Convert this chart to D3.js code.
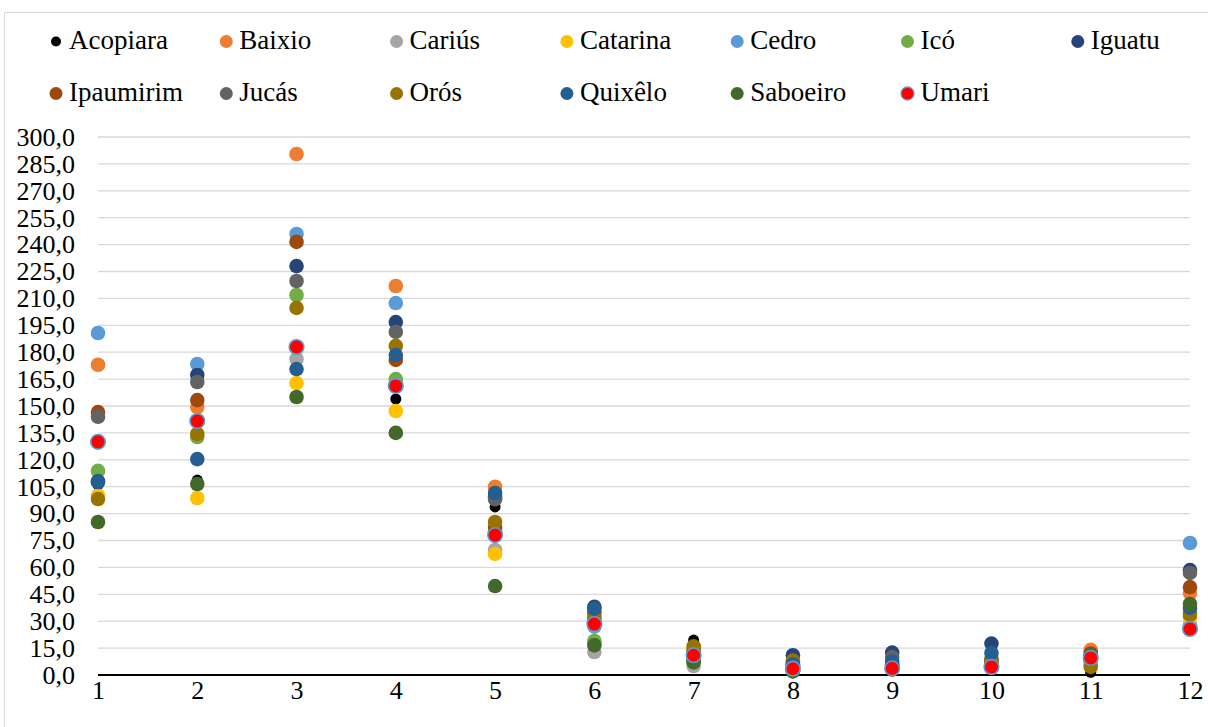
<!DOCTYPE html>
<html>
<head>
<meta charset="utf-8">
<script src="https://cdn.jsdelivr.net/npm/d3@7"></script>
<style>
  html, body { margin: 0; padding: 0; background: #fff; }
  svg { display: block; }
</style>
</head>
<body>
<svg id="chart" width="1208" height="727"></svg>
<script>
// Monthly values per municipality (month 1..12)
const months = [1, 2, 3, 4, 5, 6, 7, 8, 9, 10, 11, 12];
const acopiara  = [106, 108.7, 171, 153.9, 93.7, 17, 19.5, 4, 4, 5, 1.5, 30];
const baixio    = [173, 149.4, 290.5, 216.9, 105, 33, 13, 5, 5, 6, 14, 45.7];
const carius    = [130, 142, 176.2, 163, 69.7, 12.8, 5, 2, 4, 4, 6, 28];
const catarina  = [100, 98.7, 162.8, 147.2, 67.5, 18, 15, 4, 5, 5, 7, 32];
const cedro     = [190.7, 173.4, 245.9, 207.4, 79, 27, 10, 5, 5, 5, 9, 73.6];
const ico       = [113.8, 132.7, 211.9, 165, 80, 19, 8, 3, 5, 6, 8, 35];
const iguatu    = [108, 167.3, 228, 196.8, 99, 38, 12, 11, 12.5, 17.5, 10, 58.5];
const ipaumirim = [146.6, 153.3, 241.5, 175.7, 82.5, 35, 14, 6, 6, 8, 12, 49];
const jucas     = [144, 163.4, 219.7, 191.3, 98, 30, 12, 7, 10, 9, 11, 56.9];
const oros      = [98.1, 134.4, 204.7, 183.5, 85.3, 31.5, 16, 8, 6, 7, 4.5, 33.5];
const quixelo   = [107.6, 120.4, 170.6, 178.4, 101.5, 37, 9, 6, 7.5, 12.3, 10, 37.4];
const saboeiro  = [85.3, 106.5, 155, 135, 49.6, 16.5, 7, 2, 3, 4, 11, 39.6];
const umari     = [130, 141.6, 182.9, 161.2, 78, 28.4, 11, 3.5, 3.7, 4.5, 9.5, 25.7];

const seriesNames = ["Acopiara", "Baixio", "Cariús", "Catarina", "Cedro", "Icó", "Iguatu",
                     "Ipaumirim", "Jucás", "Orós", "Quixêlo", "Saboeiro", "Umari"];
const seriesValues = [acopiara, baixio, carius, catarina, cedro, ico, iguatu,
                      ipaumirim, jucas, oros, quixelo, saboeiro, umari];
const seriesFill = ["#000000", "#ED7D31", "#A5A5A5", "#FFC000", "#5B9BD5", "#70AD47", "#264478",
                    "#9E480E", "#636363", "#997300", "#255E91", "#43682B", "#FF0000"];
const yTicks = d3.range(0, 301, 15);

const FONT = "'Liberation Serif', 'Times New Roman', serif";

const series = seriesNames.map((name, i) => ({
  name,
  fill: seriesFill[i],
  stroke: name === "Umari" ? "#5B9BD5" : null,
  r: name === "Acopiara" ? 5.5 : 7.3,
  values: seriesValues[i]
}));

const svg = d3.select("#chart");

// outer chart frame
svg.append("rect")
  .attr("x", 4.5).attr("y", 12.5)
  .attr("width", 1300).attr("height", 800)
  .attr("fill", "none").attr("stroke", "#d9d9d9").attr("stroke-width", 1);

const plot = { left: 98, right: 1190, top: 137, bottom: 675 };

const x = d3.scaleLinear().domain([1, 12]).range([plot.left, plot.right]);
const y = d3.scaleLinear().domain([0, 300]).range([plot.bottom, plot.top]);

// horizontal gridlines
svg.append("g")
  .selectAll("line")
  .data(yTicks.filter(t => t > 0))
  .join("line")
  .attr("x1", plot.left).attr("x2", plot.right)
  .attr("y1", d => y(d)).attr("y2", d => y(d))
  .attr("stroke", "#d9d9d9").attr("stroke-width", 1.3);

// y axis labels
const fmt = d => d3.format(".1f")(d).replace(".", ",");
const yAxis = d3.axisLeft(y).tickValues(yTicks).tickFormat(fmt).tickSize(0).tickPadding(23);
svg.append("g")
  .attr("transform", `translate(${plot.left},0)`)
  .call(yAxis)
  .call(g => g.select(".domain").remove())
  .call(g => g.selectAll("text")
    .attr("font-family", FONT)
    .attr("font-size", 26).attr("fill", "#000"));

// x axis
const xAxis = d3.axisBottom(x).tickValues(months).tickFormat(d3.format("d")).tickSize(0).tickPadding(6);
svg.append("g")
  .attr("transform", `translate(0,${plot.bottom})`)
  .call(xAxis)
  .call(g => g.select(".domain").attr("stroke", "#000").attr("stroke-width", 2)
    .attr("d", `M${plot.left},0H${plot.right}`))
  .call(g => g.selectAll("text")
    .attr("font-family", FONT)
    .attr("font-size", 26).attr("fill", "#000"));

// markers, drawn series by series so later ones sit on top
const marks = svg.append("g");
series.forEach(s => {
  marks.append("g")
    .selectAll("circle")
    .data(s.values.map((v, i) => ({ m: months[i], v })))
    .join("circle")
    .attr("cx", d => x(d.m))
    .attr("cy", d => y(d.v))
    .attr("r", s.r)
    .attr("fill", s.fill)
    .attr("stroke", s.stroke || "none")
    .attr("stroke-width", s.stroke ? 1.6 : 0);
});

// legend: two rows of seven columns
const legendCols = 7, colW = 170.3, legX0 = 56, legY0 = 41.5, rowH = 52;
const leg = svg.append("g");
series.forEach((s, i) => {
  const cx = legX0 + (i % legendCols) * colW;
  const cy = legY0 + Math.floor(i / legendCols) * rowH;
  const item = leg.append("g");
  item.append("circle")
    .attr("cx", cx).attr("cy", cy)
    .attr("r", s.name === "Acopiara" ? 5 : 6.5)
    .attr("fill", s.fill)
    .attr("stroke", s.stroke || "none")
    .attr("stroke-width", s.stroke ? 1.3 : 0);
  item.append("text")
    .attr("x", cx + 13).attr("y", cy + 7)
    .attr("font-family", FONT)
    .attr("font-size", 27)
    .attr("fill", "#000")
    .text(s.name);
});
</script>
</body>
</html>
